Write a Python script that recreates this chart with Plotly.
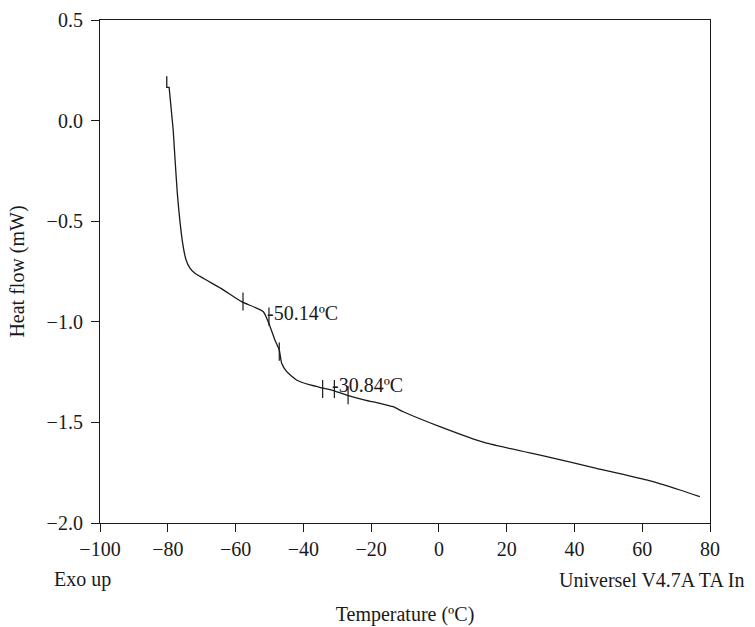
import plotly.graph_objects as go

# DSC curve
temperature = [-80.3, -80.3, -79.6, -78.4, -77.1, -75.6, -74.6, -73.4, -72.0, -64.3,
               -58.2, -51.8, -49.8, -48.4, -47.1, -46.4, -44.9, -42.0, -38.0, -34.1,
               -30.7, -27.2, -21.8, -17.4, -13.5, -10.5, 0.3, 13.6, 31.8, 46.5,
               61.3, 71.1, 77.0]
heat_flow = [0.22, 0.165, 0.165, -0.047, -0.378, -0.61, -0.693, -0.735, -0.759, -0.834,
             -0.900, -0.950, -1.024, -1.090, -1.140, -1.206, -1.248, -1.289, -1.314, -1.330,
             -1.344, -1.364, -1.389, -1.405, -1.422, -1.447, -1.521, -1.601, -1.670, -1.728,
             -1.786, -1.836, -1.869]

# Onset / end markers on the curve
mark_T = [-57.8, -47.1, -34.3, -26.8]
mark_H = [-0.899, -1.148, -1.334, -1.364]

# Glass transition midpoints
tg_T = [-50.14, -30.84]
tg_H = [-0.974, -1.334]
tg_labels = ["-50.14ºC", "-30.84ºC"]

x_ticks = [-100, -80, -60, -40, -20, 0, 20, 40, 60, 80]
y_ticks = [-2.0, -1.5, -1.0, -0.5, 0.0, 0.5]

FONT = "Liberation Serif"
INK = "#1a1a1a"

fig = go.Figure()
# initial step drawn straight, remainder smoothed
fig.add_trace(go.Scatter(x=temperature[:4], y=heat_flow[:4], mode="lines",
                         line=dict(color=INK, width=1.3), showlegend=False,
                         hoverinfo="skip"))
fig.add_trace(go.Scatter(x=temperature[3:], y=heat_flow[3:], mode="lines",
                         line=dict(color=INK, width=1.3, shape="spline", smoothing=0.5),
                         showlegend=False, hoverinfo="skip"))
fig.add_trace(go.Scatter(x=mark_T + tg_T, y=mark_H + tg_H, mode="markers",
                         marker=dict(symbol="line-ns", size=13,
                                     line=dict(color=INK, width=1.2)),
                         showlegend=False, hoverinfo="skip"))

for t, h, lab in zip(tg_T, tg_H, tg_labels):
    fig.add_annotation(x=t, y=h, xref="x", yref="y", text=lab, showarrow=False,
                       xanchor="left", yanchor="middle", xshift=-4, yshift=4,
                       font=dict(family=FONT, size=20, color=INK))

fig.add_annotation(x=-0.079, y=-0.113, xref="paper", yref="paper", text="Exo up",
                   showarrow=False, xanchor="left", yanchor="middle",
                   font=dict(family=FONT, size=20, color=INK))
fig.add_annotation(x=0.749, y=-0.113, xref="paper", yref="paper",
                   text="Universel V4.7A TA In", showarrow=False,
                   xanchor="left", yanchor="middle",
                   font=dict(family=FONT, size=20, color=INK))

axis_common = dict(showline=True, linecolor=INK, linewidth=1.2, mirror=True,
                   ticks="outside", ticklen=8, tickwidth=1.2, tickcolor=INK,
                   showgrid=False, zeroline=False, automargin=False,
                   tickfont=dict(family=FONT, size=20, color=INK))

fig.update_xaxes(range=[-100, 80], tickvals=x_ticks,
                 title=dict(text="Temperature (ºC)", standoff=47,
                            font=dict(family=FONT, size=20, color=INK)),
                 **axis_common)
fig.update_yaxes(range=[-2.0, 0.5], tickvals=y_ticks, tickformat=".1f",
                 ticklabelstandoff=4,
                 title=dict(text="Heat flow (mW)", standoff=16,
                            font=dict(family=FONT, size=20, color=INK)),
                 **axis_common)

fig.update_layout(width=755, height=627,
                  margin=dict(l=100, r=45, t=20, b=104),
                  paper_bgcolor="white", plot_bgcolor="white")

fig.write_html("out.html")
